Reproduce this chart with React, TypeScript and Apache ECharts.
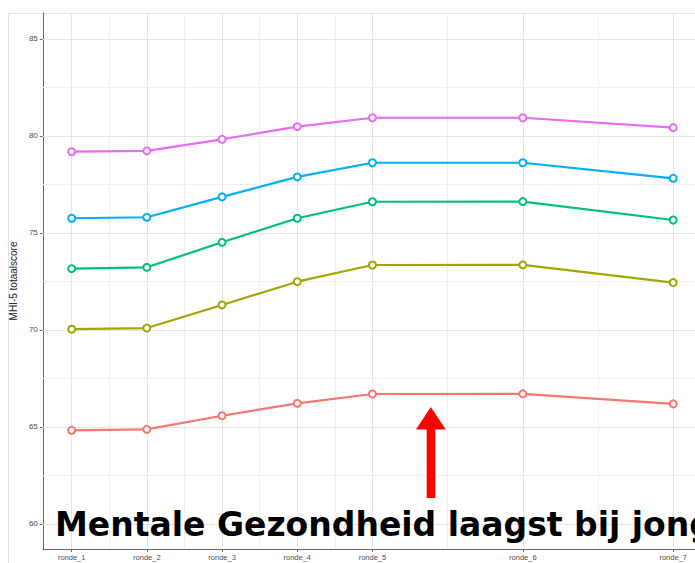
import React, { useEffect, useRef } from "react";
import * as echarts from "echarts";

const rondeLabels = ["ronde_1", "ronde_2", "ronde_3", "ronde_4", "ronde_5", "ronde_6", "ronde_7"];
const rondePos = [1, 2, 3, 4, 5, 7, 9];
const xMinor = [1.5, 2.5, 3.5, 4.5, 6, 8];

const redVals = [64.83, 64.88, 65.58, 66.22, 66.7, 66.71, 66.19];
const oliveVals = [70.04, 70.1, 71.29, 72.49, 73.35, 73.36, 72.44];
const greenVals = [73.16, 73.23, 74.52, 75.76, 76.61, 76.62, 75.67];
const blueVals = [75.76, 75.81, 76.86, 77.89, 78.62, 78.62, 77.82];
const magentaVals = [79.19, 79.23, 79.83, 80.48, 80.94, 80.94, 80.43];

const seriesColors = ["#F8766D", "#A3A500", "#00BF7D", "#00B0F6", "#E76BF3"];
const seriesVals = [redVals, oliveVals, greenVals, blueVals, magentaVals];

const yTicks = [60, 65, 70, 75, 80, 85];
const yMinor = [62.5, 67.5, 72.5, 77.5, 82.5];

const yTitle = "MHI-5 totaalscore";
const headline = "Mentale Gezondheid laagst bij jong";

export default function App() {
  const ref = useRef<HTMLDivElement>(null);
  useEffect(() => {
    document.body.style.margin = "0";
    document.body.style.overflow = "hidden";
    const chart = echarts.init(ref.current!, null, { renderer: "svg" });

    const gridLine = (val: number, axis: "xAxis" | "yAxis", color: string) => ({
      [axis]: val,
      lineStyle: { color, width: 1, type: "solid" },
    });

    const markData = [
      ...rondePos.map((v) => gridLine(v, "xAxis", "#e6e6e6")),
      ...xMinor.map((v) => gridLine(v, "xAxis", "#f0f0f0")),
      ...yTicks.map((v) => gridLine(v, "yAxis", "#e6e6e6")),
      ...yMinor.map((v) => gridLine(v, "yAxis", "#f0f0f0")),
    ];

    const lineSeries = seriesVals.map((vals, i) => ({
      type: "line",
      data: vals.map((v, j) => [rondePos[j], v]),
      symbol: "emptyCircle",
      symbolSize: 7,
      lineStyle: { color: seriesColors[i], width: 2.2 },
      itemStyle: { color: seriesColors[i], borderColor: seriesColors[i], borderWidth: 1.7 },
      z: 3,
      silent: true,
    }));

    chart.setOption({
      animation: false,
      backgroundColor: "#ffffff",
      grid: { left: 40, right: 0, top: 13, bottom: 14, containLabel: false },
      xAxis: {
        type: "value",
        min: 0.616,
        max: 9.29,
        axisLine: { show: true, onZero: false, lineStyle: { color: "#666666", width: 1 } },
        axisTick: { show: true, length: 3, customValues: rondePos, lineStyle: { color: "#666666" } },
        axisLabel: {
          customValues: rondePos,
          formatter: (v: number) => rondeLabels[rondePos.indexOf(v)] ?? "",
          fontSize: 7.5,
          color: "#4d4d4d",
          margin: 4,
          fontFamily: "Liberation Sans, Arial, sans-serif",
        },
        splitLine: { show: false },
      },
      yAxis: {
        type: "value",
        min: 58.71,
        max: 86.34,
        name: yTitle,
        nameLocation: "middle",
        nameRotate: 90,
        nameGap: 16,
        nameTextStyle: { fontSize: 10, color: "#1a1a1a", fontFamily: "Liberation Sans, Arial, sans-serif" },
        axisLine: { show: true, lineStyle: { color: "#666666", width: 1 } },
        axisTick: { show: true, length: 3, customValues: yTicks, lineStyle: { color: "#666666" } },
        axisLabel: {
          customValues: yTicks,
          fontSize: 8,
          color: "#4d4d4d",
          margin: 5,
          fontFamily: "Liberation Sans, Arial, sans-serif",
        },
        splitLine: { show: false },
      },
      series: [
        {
          type: "line",
          data: [],
          silent: true,
          z: 1,
          markLine: {
            silent: true,
            symbol: "none",
            z: 1,
            label: { show: false },
            emphasis: { disabled: true },
            data: markData,
          },
        },
        ...lineSeries,
      ],
      graphic: [
        {
          type: "rect",
          shape: { x: 8.5, y: 13.5, width: 720, height: 600 },
          style: { fill: "none", stroke: "#e3e3e3", lineWidth: 1 },
          z: 0,
          silent: true,
        },
        {
          type: "rect",
          shape: { x: 426.7, y: 428, width: 8.6, height: 70 },
          style: { fill: "#ff0000" },
          z: 20,
        },
        {
          type: "polygon",
          shape: { points: [[416, 429.5], [445.8, 429.5], [430.8, 407]] },
          style: { fill: "#ff0000" },
          z: 20,
        },
        {
          type: "text",
          x: 55,
          y: 524,
          style: {
            text: headline,
            fontFamily: "DejaVu Sans",
            fontWeight: "bold",
            fontSize: 33,
            fill: "#000000",
            verticalAlign: "middle",
            align: "left",
          },
          z: 21,
        },
      ],
    });
    return () => chart.dispose();
  }, []);
  return <div ref={ref} style={{ width: 695, height: 563 }} />;
}
